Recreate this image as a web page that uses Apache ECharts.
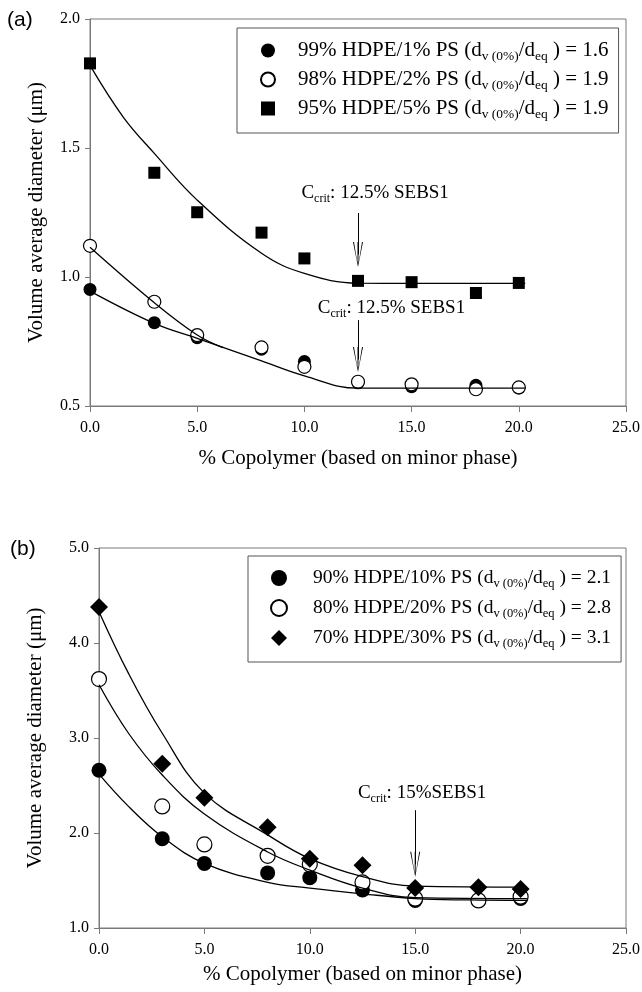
<!DOCTYPE html>
<html>
<head>
<meta charset="utf-8">
<script src="https://cdn.jsdelivr.net/npm/echarts@6/dist/echarts.min.js"></script>
<style>
  html, body { margin: 0; padding: 0; background: #fff; }
  #chart { width: 642px; height: 992px; }
</style>
</head>
<body>
<div id="chart"></div>
<script>
// copolymer content (% of minor phase)
const copolymer = [0, 3, 5, 8, 10, 12.5, 15, 18, 20];

// panel (a) measured diameters (um)
const pe99ps1 = [0.952, 0.823, 0.765, 0.72, 0.672, 0.59, 0.575, 0.58, 0.57];
const pe98ps2 = [1.121, 0.904, 0.775, 0.727, 0.652, 0.594, 0.584, 0.565, 0.572];
const pe95ps5 = [1.828, 1.404, 1.251, 1.172, 1.072, 0.985, 0.98, 0.938, 0.977];

// panel (b) measured diameters (um)
const pe90ps10 = [2.66, 1.94, 1.68, 1.58, 1.53, 1.40, 1.29, 1.29, 1.31];
const pe80ps20 = [3.62, 2.28, 1.88, 1.76, 1.67, 1.48, 1.31, 1.29, 1.33];
const pe70ps30 = [4.38, 2.73, 2.37, 2.06, 1.73, 1.66, 1.42, 1.43, 1.41];

// trend curves
const fitA1 = [[0, 0.945], [3, 0.82], [5, 0.762], [8, 0.675], [10, 0.617], [12.5, 0.569], [15, 0.569], [20.3, 0.569]];
const fitA2 = [[0, 1.115], [3, 0.9], [5, 0.775], [6.2, 0.726]];
const fitA5 = [[0, 1.82], [1.55, 1.62], [3, 1.479], [5, 1.298], [8, 1.092], [10, 1.014], [12.5, 0.976], [15, 0.975], [20.3, 0.975]];
const fitB10 = [[0, 2.62], [1.4, 2.28], [3, 1.96], [5, 1.68], [8, 1.48], [10, 1.42], [12.5, 1.36], [15, 1.31], [17.5, 1.295], [20.3, 1.29]];
const fitB20 = [[0, 3.56], [1.4, 3.05], [3, 2.61], [5, 2.2], [8, 1.8], [10, 1.61], [12.5, 1.42], [15, 1.32], [20.3, 1.31]];
const fitB30 = [[0, 4.33], [1.4, 3.68], [3, 3.05], [5, 2.42], [8, 1.98], [10, 1.73], [12.5, 1.54], [15, 1.44], [20.3, 1.43]];

// legend labels and ratios
const namesA = ['99% HDPE/1% PS', '98% HDPE/2% PS', '95% HDPE/5% PS'];
const namesB = ['90% HDPE/10% PS', '80% HDPE/20% PS', '70% HDPE/30% PS'];
const ratios = {
  '99% HDPE/1% PS': '1.6', '98% HDPE/2% PS': '1.9', '95% HDPE/5% PS': '1.9',
  '90% HDPE/10% PS': '2.1', '80% HDPE/20% PS': '2.8', '70% HDPE/30% PS': '3.1'
};

const xTicks = { min: 0, max: 25, interval: 5 };
const yTicksA = { min: 0.5, max: 2.0, interval: 0.5 };
const yTicksB = { min: 1, max: 5, interval: 1 };

const SERIF = 'Liberation Serif';
const AXIS_GREY = '#7a7a7a';
const ARROW = 'path://M5,0 L10,25 L9,25 L5.5,3.5 L5.5,25 L4.5,25 L4.5,3.5 L1,25 L0,25 Z';

const pts = ys => copolymer.map((x, i) => [x, ys[i]]);

function legendRich(size, gap) {
  return {
    g: { width: gap },
    t: { fontFamily: SERIF, fontSize: size, lineHeight: 24, color: '#000' },
    s: { fontFamily: SERIF, fontSize: size * 0.64, lineHeight: 13, padding: [12, 0, 0, 0], color: '#000' }
  };
}
const critRich = {
  t: { fontFamily: SERIF, fontSize: 19, lineHeight: 22, color: '#000' },
  s: { fontFamily: SERIF, fontSize: 12, lineHeight: 12, padding: [11, 0, 0, 0], color: '#000' }
};

function xAxisFor(gi, gap) {
  return {
    type: 'value', gridIndex: gi, min: xTicks.min, max: xTicks.max, interval: xTicks.interval,
    name: '% Copolymer (based on minor phase)', nameLocation: 'middle', nameGap: gap,
    nameTextStyle: { fontFamily: SERIF, fontSize: 21, color: '#000' },
    axisLine: { onZero: false, lineStyle: { color: AXIS_GREY, width: 1 } },
    axisTick: { show: true, inside: false, length: 6, lineStyle: { color: AXIS_GREY } },
    axisLabel: { fontFamily: SERIF, fontSize: 16, color: '#000', margin: 14, formatter: v => v.toFixed(1) },
    splitLine: { show: false }
  };
}
function yAxisFor(gi, t, gap) {
  return {
    type: 'value', gridIndex: gi, min: t.min, max: t.max, interval: t.interval,
    name: 'Volume average diameter (μm)', nameLocation: 'middle', nameGap: gap,
    nameTextStyle: { fontFamily: SERIF, fontSize: 21, color: '#000' },
    axisLine: { onZero: false, lineStyle: { color: AXIS_GREY, width: 1 } },
    axisTick: { show: true, inside: false, length: 5, lineStyle: { color: AXIS_GREY } },
    axisLabel: { fontFamily: SERIF, fontSize: 16, color: '#000', margin: 10, formatter: v => v.toFixed(1) },
    splitLine: { show: false }
  };
}

function dots(name, gi, ys, symbol, size, hollow) {
  return {
    name: name, type: 'scatter', xAxisIndex: gi, yAxisIndex: gi,
    data: pts(ys), symbol: symbol, symbolSize: size, z: 3,
    itemStyle: hollow
      ? { color: '#fff', borderColor: '#000', borderWidth: 1.2, opacity: 1 }
      : { color: '#000', opacity: 1 }
  };
}
function curve(gi, data, extra) {
  return Object.assign({
    type: 'line', xAxisIndex: gi, yAxisIndex: gi, data: data,
    showSymbol: false, symbol: 'none', smooth: 0.4, z: 4,
    lineStyle: { color: '#000', width: 1.3 }
  }, extra || {});
}
function arrow(x, y0, y1) {
  return {
    silent: true, symbol: ['none', ARROW], symbolSize: [10, 25],
    lineStyle: { color: '#000', width: 1, type: 'solid' }, label: { show: false },
    data: [[{ coord: [x, y0] }, { coord: [x, y1] }]]
  };
}
function note(x, y, txt) {
  return {
    silent: true, symbol: 'circle', symbolSize: 0,
    data: [{ coord: [x, y], label: { show: true, position: 'inside', formatter: txt, rich: critRich } }]
  };
}

function legendFor(names, left, top, iconSize, fontSize, gap, rowGap) {
  return {
    data: names, orient: 'vertical', left: left, top: top,
    itemWidth: iconSize, itemHeight: iconSize, itemGap: rowGap,
    padding: [10, 10, 12, 30 - iconSize / 2],
    borderColor: '#555', borderWidth: 1, backgroundColor: '#fff',
    textStyle: { fontFamily: SERIF, fontSize: fontSize, color: '#000', rich: legendRich(fontSize, gap) },
    formatter: n => '{g|}{t|' + n + ' (d}{s|v (0%)}{t|/d}{s|eq}{t| ) = ' + ratios[n] + '}'
  };
}

const chart = echarts.init(document.getElementById('chart'), null, { renderer: 'canvas' });
chart.setOption({
  animation: false,
  backgroundColor: '#fff',
  grid: [
    { left: 90, right: 16, top: 19, height: 387, show: true, borderColor: AXIS_GREY, borderWidth: 1, outerBoundsMode: 'none' },
    { left: 99, right: 16, top: 548, height: 380, show: true, borderColor: AXIS_GREY, borderWidth: 1, outerBoundsMode: 'none' }
  ],
  xAxis: [xAxisFor(0, 42), xAxisFor(1, 36)],
  yAxis: [yAxisFor(0, yTicksA, 43), yAxisFor(1, yTicksB, 53)],
  legend: [
    legendFor(namesA, 237, 28, 14, 21, 18, 4),
    legendFor(namesB, 248, 556, 16, 19.5, 21, 6)
  ],
  graphic: [
    { type: 'text', left: 7, top: 10, style: { text: '(a)', font: '21px "Liberation Sans"', fill: '#000' } },
    { type: 'text', left: 10, top: 539, style: { text: '(b)', font: '21px "Liberation Sans"', fill: '#000' } }
  ],
  series: [
    dots(namesA[0], 0, pe99ps1, 'circle', 13, false),
    dots(namesA[1], 0, pe98ps2, 'circle', 13, true),
    dots(namesA[2], 0, pe95ps5, 'rect', 12, false),
    curve(0, fitA1, { markLine: arrow(12.5, 0.833, 0.68), markPoint: note(14.06, 0.88, '{t|C}{s|crit}{t|: 12.5% SEBS1}') }),
    curve(0, fitA2),
    curve(0, fitA5, { markLine: arrow(12.5, 1.248, 1.087), markPoint: note(13.3, 1.326, '{t|C}{s|crit}{t|: 12.5% SEBS1}') }),

    dots(namesB[0], 1, pe90ps10, 'circle', 15, false),
    dots(namesB[1], 1, pe80ps20, 'circle', 15, true),
    dots(namesB[2], 1, pe70ps30, 'diamond', 18, false),
    curve(1, fitB10),
    curve(1, fitB20),
    curve(1, fitB30, { markLine: arrow(15, 2.24, 1.67), markPoint: note(15.33, 2.42, '{t|C}{s|crit}{t|: 15%SEBS1}') })
  ]
});
</script>
</body>
</html>
